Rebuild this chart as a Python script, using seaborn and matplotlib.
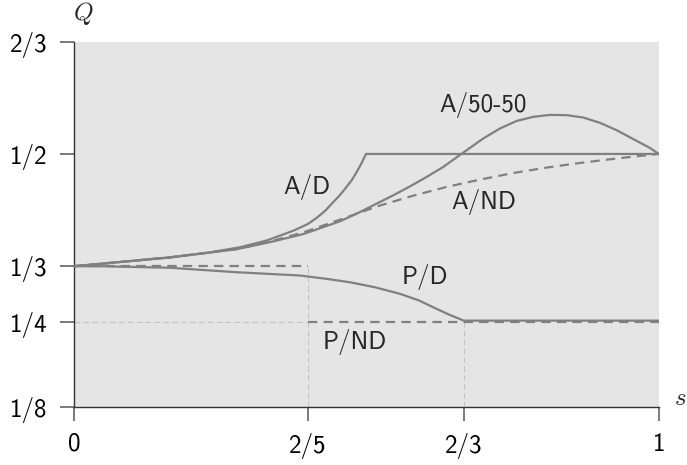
import matplotlib
matplotlib.use("Agg")
import matplotlib.pyplot as plt
import seaborn as sns

# data (s, Q)
ad_s = [0, 0.05, 0.164, 0.23, 0.284, 0.33, 0.375, 0.4, 0.415, 0.43, 0.4435,
        0.455, 0.466, 0.475, 0.4835, 0.491, 0.4994, 1.0]
ad_q = [1/3, 0.3373, 0.3465, 0.3535, 0.3615, 0.3716, 0.386, 0.396, 0.405,
        0.416, 0.4286, 0.439, 0.451, 0.461, 0.4732, 0.485, 0.5, 0.5]

a50_s = [0, 0.05, 0.164, 0.278, 0.34, 0.392, 0.455, 0.489, 0.523, 0.546,
         0.575, 0.603, 0.632, 0.66, 0.7, 0.729, 0.757, 0.7855, 0.814,
         0.8427, 0.871, 0.8996, 0.928, 0.9566, 0.985, 1.0]
a50_q = [1/3, 0.3372, 0.3462, 0.3585, 0.37, 0.381, 0.4, 0.4137, 0.4286,
         0.4386, 0.452, 0.4658, 0.481, 0.4985, 0.523, 0.538, 0.549, 0.5551,
         0.558, 0.5576, 0.5541, 0.5462, 0.5353, 0.522, 0.509, 0.5]

and_s = [0, 0.05, 0.164, 0.278, 0.34, 0.392, 0.455, 0.523, 0.58, 0.637,
         0.695, 0.751, 0.81, 0.865, 0.93, 1.0]
and_q = [1/3, 0.3374, 0.3465, 0.3588, 0.371, 0.3835, 0.4025, 0.4234, 0.438,
         0.451, 0.462, 0.4717, 0.48, 0.4866, 0.4935, 0.5]

pd_s = [0, 0.05, 0.164, 0.278, 0.3865, 0.43, 0.472, 0.515, 0.5575, 0.59,
        0.6145, 0.64, 0.6667, 1.0]
pd_q = [1/3, 0.3332, 0.331, 0.3244, 0.3195, 0.3148, 0.3095, 0.302, 0.2923,
        0.2825, 0.2723, 0.262, 0.2525, 0.2525]

pnd_s = [0, 0.4, 0.4, 1.0]
pnd_q = [1/3, 1/3, 0.25, 0.25]

xticks = [0, 2/5, 2/3, 1]
xlabels = ["0", "2/5", "2/3", "1"]
yticks = [1/8, 1/4, 1/3, 1/2, 2/3]
ylabels = ["1/8", "1/4", "1/3", "1/2", "2/3"]

sns.set_theme(style="white")
plt.rcParams["font.family"] = ["cmss10", "DejaVu Sans"]
plt.rcParams["mathtext.fontset"] = "cm"
plt.rcParams["axes.unicode_minus"] = False

fig = plt.figure(figsize=(6.87, 4.65), dpi=100)
ax = fig.add_axes([0.1077, 0.1258, 0.8511, 0.7845])
ax.set_facecolor("#e5e5e5")

# light guide lines
guide = dict(color="#c4c4c4", lw=0.8, ls=(0, (5, 3)), zorder=1)
ax.hlines(yticks[1], xticks[0], xticks[1], **guide)
ax.vlines(xticks[1], yticks[0], yticks[2], **guide)
ax.vlines(xticks[2], yticks[0], yticks[1], **guide)

gray = "#808080"
dash = (0, (4.2, 2.8))
for xs, ys in [(ad_s, ad_q), (a50_s, a50_q), (pd_s, pd_q)]:
    sns.lineplot(x=xs, y=ys, ax=ax, color=gray, lw=1.6, sort=False,
                 estimator=None, zorder=3)

# dashed ones; P/ND drop at 2/5 is only the light guide
for xs, ys in [(and_s, and_q), (pnd_s[:2], pnd_q[:2]), (pnd_s[2:], pnd_q[2:])]:
    sns.lineplot(x=xs, y=ys, ax=ax, color=gray, lw=1.6, sort=False,
                 estimator=None, zorder=2)
    ax.lines[-1].set_linestyle(dash)

fs = 18
ax.text(0.398, 0.4505, "A/D", fontsize=fs, ha="center", va="center")
ax.text(0.700, 0.5725, "A/50-50", fontsize=fs, ha="center", va="center")
ax.text(0.700, 0.4286, "A/ND", fontsize=fs, ha="center", va="center")
ax.text(0.600, 0.317, "P/D", fontsize=fs, ha="center", va="center")
ax.text(0.4806, 0.2202, "P/ND", fontsize=fs, ha="center", va="center")

ax.text(0.0154, 1.0787, "$Q$", fontsize=fs, ha="center", va="center",
        transform=ax.transAxes)
ax.text(1.036, 0.023, "$s$", fontsize=fs, ha="center", va="center",
        transform=ax.transAxes)

ax.set_xlim(0, 1)
ax.set_ylim(1/8, 2/3)
ax.set_xticks(xticks)
ax.set_xticklabels(xlabels, fontsize=fs)
ax.set_yticks(yticks)
ax.set_yticklabels(ylabels, fontsize=fs)
ax.tick_params(axis="both", direction="out", length=10, width=1.3,
               color="#707070", pad=9, labelcolor="black",
               bottom=True, left=True)
for side in ["top", "right"]:
    ax.spines[side].set_visible(False)
for side in ["left", "bottom"]:
    ax.spines[side].set_color("#333333")
    ax.spines[side].set_linewidth(1.0)
ax.set_xlabel("")
ax.set_ylabel("")

fig.savefig("out.png", dpi=100)
